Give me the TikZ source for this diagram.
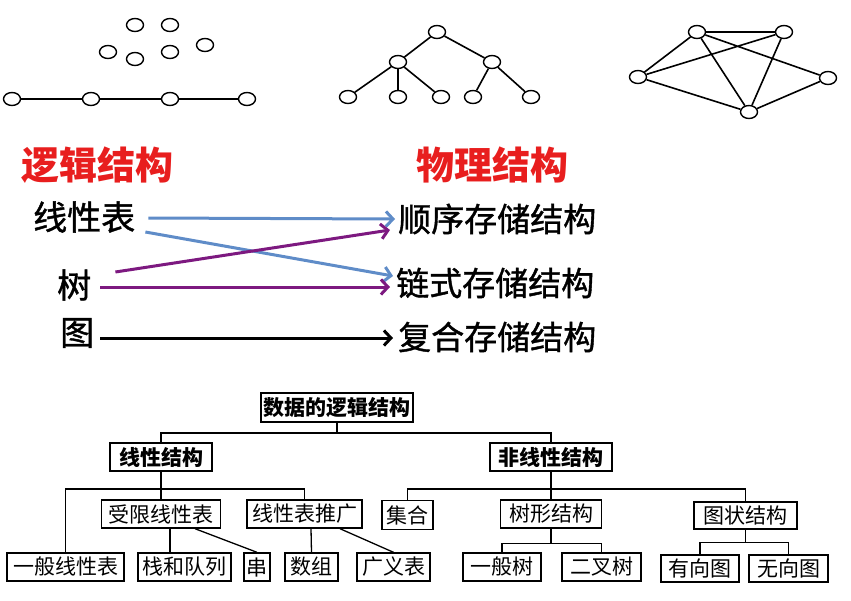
\documentclass[tikz,border=0pt]{standalone}
\usepackage{fontspec}
\setmainfont{Noto Sans CJK SC}
\newfontfamily\midfont[FakeBold=1.2]{Noto Sans CJK SC}
\usetikzlibrary{shapes.geometric,arrows.meta}
\definecolor{titlered}{RGB}{232,30,30}
\definecolor{arrblue}{RGB}{95,140,200}
\definecolor{arrpurple}{RGB}{125,25,128}
\tikzset{
  vtx/.style={ellipse,draw,line width=1.4pt,minimum width=17pt,minimum height=13pt,inner sep=0pt},
  edge/.style={line width=1.6pt},
  ttl/.style={inner sep=0pt,anchor=west,text=titlered,font=\fontsize{38}{44}\selectfont\bfseries},
  lbl/.style={inner sep=0pt,anchor=west,font=\midfont\fontsize{34}{40}\selectfont},
  plbl/.style={lbl,font=\midfont\fontsize{33}{40}\selectfont},
  arr/.style={line width=3pt,-{Straight Barb[length=7pt,width=15pt,line width=3pt]}},
  box/.style={draw,line width=1.4pt,minimum height=28pt,inner sep=0pt,font=\fontsize{21}{24}\selectfont},
  bbox/.style={box,font=\fontsize{21}{24}\selectfont\bfseries},
  tline/.style={line width=1.3pt}
}
\begin{document}
\begin{tikzpicture}[x=1pt,y=-1pt]
\useasboundingbox (0,0) rectangle (851,600);
% scattered set
\node[vtx] (s1) at (135,25) {};
\node[vtx] (s2) at (170,25) {};
\node[vtx] (s3) at (108,52) {};
\node[vtx] (s4) at (135,59) {};
\node[vtx] (s5) at (170,52) {};
\node[vtx] (s6) at (205,45) {};
% linear
\node[vtx] (l1) at (12,99) {};
\node[vtx] (l2) at (91,99) {};
\node[vtx] (l3) at (170,99) {};
\node[vtx] (l4) at (247,99) {};
\draw[edge] (l1)--(l2) (l2)--(l3) (l3)--(l4);
% tree
\node[vtx] (t0) at (437,32) {};
\node[vtx] (t1) at (398,62) {};
\node[vtx] (t2) at (492,62) {};
\node[vtx] (t3) at (348,97) {};
\node[vtx] (t4) at (398,97) {};
\node[vtx] (t5) at (441,97) {};
\node[vtx] (t6) at (473,97) {};
\node[vtx] (t7) at (531,97) {};
\draw[edge] (t0)--(t1) (t0)--(t2) (t1)--(t3) (t1)--(t4) (t1)--(t5) (t2)--(t6) (t2)--(t7);
% graph
\node[vtx] (g1) at (697,32) {};
\node[vtx] (g2) at (784,32) {};
\node[vtx] (g3) at (638,77) {};
\node[vtx] (g4) at (828,78) {};
\node[vtx] (g5) at (749,112) {};
\draw[edge] (g1)--(g2) (g1)--(g3) (g1)--(g5) (g1)--(g4) (g2)--(g3) (g2)--(g5) (g3)--(g5) (g5)--(g4);
% middle
\node[ttl] (tl) at (21,165) {逻辑结构};
\node[ttl] (tp) at (416,165) {物理结构};
\node[lbl] (xl) at (33,217) {线性表};
\node[lbl] (sh) at (57,285) {树};
\node[lbl] (tu) at (60,333) {图};
\node[plbl] (sx) at (398,219) {顺序存储结构};
\node[plbl] (ls) at (396,283) {链式存储结构};
\node[plbl] (fh) at (398,337) {复合存储结构};
\draw[arr,arrblue] ([xshift=13pt,yshift=-1pt]xl.east) -- ([xshift=-3pt]sx.west);
\draw[arr,arrblue] ([xshift=10pt,yshift=-15pt]xl.east) -- ([xshift=-3pt,yshift=7pt]ls.west);
\draw[arr,arrpurple] ([xshift=24pt,yshift=13pt]sh.east) -- ([xshift=-8pt,yshift=-11pt]sx.west);
\draw[arr,arrpurple] ([xshift=9pt,yshift=-2pt]sh.east) -- ([xshift=-6pt,yshift=-4pt]ls.west);
\draw[arr,black] ([xshift=6pt,yshift=-5pt]tu.east) -- ([xshift=-5pt,yshift=-1pt]fh.west);
% bottom tree
\node[bbox,minimum width=152pt,minimum height=29pt] (root) at (337,407.5) {数据的逻辑结构};
\node[bbox,minimum width=102pt] (lin) at (161,457) {线性结构};
\node[bbox,minimum width=122pt] (non) at (551,457) {非线性结构};
\node[box,minimum width=119pt] (rest) at (161,514) {受限线性表};
\node[box,minimum width=115pt] (ext) at (304.5,514) {线性表推广};
\node[box,minimum width=51pt,minimum height=29pt] (set) at (407.5,515) {集合};
\node[box,minimum width=101pt] (tree) at (551,514) {树形结构};
\node[box,minimum width=103pt,minimum height=27pt] (grp) at (745.5,515.5) {图状结构};
\node[box,minimum width=117pt] (gen) at (65.5,567) {一般线性表};
\node[box,minimum width=93pt] (stk) at (184.5,567) {栈和队列};
\node[box,minimum width=26pt] (str) at (257,567) {串};
\node[box,minimum width=53pt] (arr) at (311.5,567) {数组};
\node[box,minimum width=73pt] (gl) at (393.5,567) {广义表};
\node[box,minimum width=78pt] (gt) at (502,567) {一般树};
\node[box,minimum width=79pt] (bt) at (601.5,567) {二叉树};
\node[box,minimum width=78pt,minimum height=27pt] (dg) at (700,568.5) {有向图};
\node[box,minimum width=79pt,minimum height=27pt] (ug) at (788.5,568.5) {无向图};
\coordinate (busa) at (0,433);
\coordinate (busb) at (0,489);
\draw[tline] (root.south) -- (root.south |- busa);
\draw[tline] (lin.north) -- (lin.north |- busa) -- (non.north |- busa) -- (non.north);
\draw[tline] (lin.south) -- (rest.north);
\draw[tline] (gen.north) -- (gen.north |- busb) -- (ext.north |- busb) -- (ext.north);
\draw[tline] (non.south) -- (tree.north);
\draw[tline] (set.north) -- (set.north |- busb) -- (grp.north |- busb) -- (grp.north);
\draw[tline] ([xshift=9pt]rest.south) -- ([xshift=-14.5pt]stk.north);
\draw[tline] ([xshift=34pt]rest.south) -- (str.north);
\draw[tline] ([xshift=6.5pt]ext.south) -- (arr.north);
\draw[tline] ([xshift=35.5pt]ext.south) -- (gl.north);
\draw[tline] (tree.south) -- ++(0,15) -| (gt.north);
\draw[tline] (tree.south) ++(0,15) -| (bt.north);
\draw[tline] (grp.south) -- ++(0,13) -| (dg.north);
\draw[tline] (grp.south) ++(0,13) -| (ug.north);
\end{tikzpicture}
\end{document}
